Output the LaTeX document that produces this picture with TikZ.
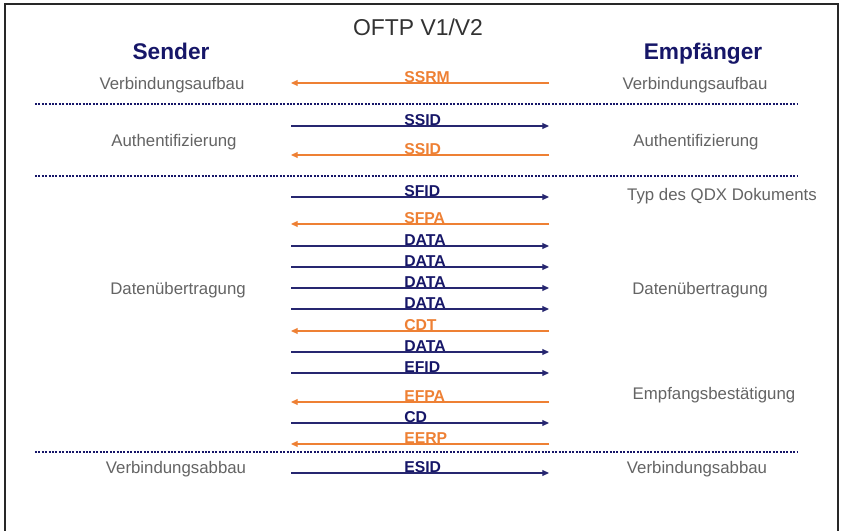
\documentclass[tikz,border=0pt]{standalone}
\usepackage{fontspec}
\setmainfont{Liberation Sans}
\usetikzlibrary{arrows.meta}

\definecolor{navy}{RGB}{22,22,104}
\definecolor{msgblue}{RGB}{38,38,112}
\definecolor{msgorange}{RGB}{238,128,52}
\definecolor{phasegray}{RGB}{100,100,100}
\definecolor{titlegray}{RGB}{50,50,50}
\definecolor{framegray}{RGB}{40,40,40}

\tikzset{
  title/.style={font=\fontsize{17.2}{20}\selectfont, text=titlegray, anchor=base, inner sep=0pt},
  party/.style={font=\fontsize{17}{20}\selectfont\bfseries, text=navy, anchor=base, inner sep=0pt},
  phase/.style={font=\fontsize{12.6}{15}\selectfont, text=phasegray, anchor=base, inner sep=0pt},
  msglabel/.style={font=\fontsize{11.8}{14}\selectfont\bfseries, anchor=base west, inner sep=0pt},
  separator/.style={draw=navy, line width=1.6pt, dash pattern=on 1.5pt off 1.05pt},
  tipstyle/.style={-{Triangle[length=5pt,width=4.4pt]}},
  tomsg/.style={tipstyle, draw=msgblue, line width=0.8pt},
  frommsg/.style={tipstyle, draw=msgorange, line width=0.8pt},
}

\begin{document}
\begin{tikzpicture}[x=0.75pt, y=-0.75pt]
  \useasboundingbox (0,0) rectangle (843,531);
  \fill[white] (0,0) rectangle (843,531);

  % open frame
  \draw[framegray, line width=1.1pt] (5,531) -- (5,4) -- (838,4);
  \draw[framegray, line width=2pt] (838,3.3) -- (838,531);

  % headings
  \node[title] (head) at (418,36) {OFTP V1/V2};
  \node[party] (sender) at (171,60) {Sender};
  \node[party] (receiver) at (703,60) {Empfänger};

  % phase names, sender side
  \node[phase] (sPh1) at (172,90) {Verbindungsaufbau};
  \node[phase] (sPh2) at (174,147) {Authentifizierung};
  \node[phase] (sPh3) at (178,295) {Datenübertragung};
  \node[phase] (sPh4) at (176,473) {Verbindungsabbau};

  % phase names, receiver side
  \node[phase] (rPh1) at (695,90) {Verbindungsaufbau};
  \node[phase] (rPh2) at (696,147) {Authentifizierung};
  \node[phase] (rPh3) at (722,201) {Typ des QDX Dokuments};
  \node[phase] (rPh4) at (700,295) {Datenübertragung};
  \node[phase] (rPh5) at (714,399) {Empfangsbestätigung};
  \node[phase] (rPh6) at (697,473) {Verbindungsabbau};

  % dotted separators between the phases
  \foreach \k/\yy in {1/104, 2/176, 3/452} {
    \coordinate (sepL\k) at (35,\yy);
    \coordinate (sepR\k) at (798,\yy);
    \draw[separator] (sepL\k) -- (sepR\k);
  }

  % message exchange: r = sender to receiver, l = receiver to sender
  \foreach \i/\yy/\msg/\dir in {
      1/83/SSRM/l, 2/126/SSID/r, 3/155/SSID/l,
      4/197/SFID/r, 5/224/SFPA/l,
      6/246/DATA/r, 7/267/DATA/r, 8/288/DATA/r, 9/309/DATA/r,
      10/331/CDT/l, 11/352/DATA/r, 12/373/EFID/r,
      13/402/EFPA/l, 14/423/CD/r, 15/444/EERP/l,
      16/473/ESID/r} {
    \coordinate (snd\i) at (291,\yy);
    \coordinate (rcv\i) at (549,\yy);
    \if\dir r
      \node[msglabel, text=navy] (msg\i) at (404,\yy-0.6) {\msg};
      \draw[tomsg] (snd\i) -- (rcv\i);
    \else
      \node[msglabel, text=msgorange] (msg\i) at (404,\yy-0.6) {\msg};
      \draw[frommsg] (rcv\i) -- (snd\i);
    \fi
  }
\end{tikzpicture}
\end{document}
